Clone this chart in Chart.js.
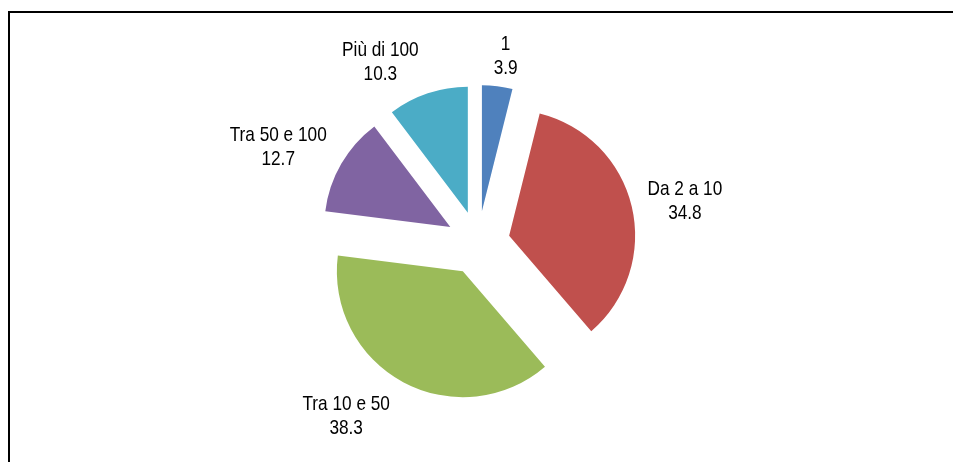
<!DOCTYPE html>
<html>
<head>
<meta charset="utf-8">
<script src="https://cdn.jsdelivr.net/npm/chart.js@4.4.1/dist/chart.umd.min.js"></script>
<style>
  body { margin: 0; background: #fff; }
  #frame { position: absolute; left: 8px; top: 11px; width: 945px; height: 451px;
           border-left: 2px solid #000; border-top: 2px solid #000; box-sizing: border-box; }
  #pie { position: absolute; left: 0; top: 0; }
</style>
</head>
<body>
<div id="frame"></div>
<canvas id="pie" width="953" height="462"></canvas>
<script>
// classes of the pie, clockwise from 12 o'clock
const categories = ['1', 'Da 2 a 10', 'Tra 10 e 50', 'Tra 50 e 100', 'Più di 100'];
const shares = [3.9, 34.8, 38.3, 12.7, 10.3];
const sliceColors = ['#4F81BD', '#C0504D', '#9BBB59', '#8064A2', '#4BACC6'];

const RADIUS = 126;   // pie radius in px
const SHIFT = 32;     // how far every slice is pulled out
// small hand nudges for the labels (Excel places them a bit freely)
const labelNudge = [[6, -1], [10, 0], [-33, 5], [-15, -3], [-33, -3]];

// the built-in offset also widens and trims the arcs, so move each slice's centre instead
const explode = {
  id: 'explode',
  afterDatasetUpdate(chart, args) {
    args.meta.data.forEach(arc => {
      const mid = (arc.startAngle + arc.endAngle) / 2;
      arc.x += Math.cos(mid) * SHIFT;
      arc.y += Math.sin(mid) * SHIFT;
    });
  }
};

const pieLabels = {
  id: 'pieLabels',
  afterDatasetsDraw(chart) {
    const ctx = chart.ctx;
    const arcs = chart.getDatasetMeta(0).data;
    ctx.save();
    ctx.font = '21px "Liberation Sans", Arial, sans-serif';
    ctx.fillStyle = '#000';
    ctx.textAlign = 'center';
    ctx.textBaseline = 'alphabetic';
    const sx = 0.82;
    arcs.forEach((arc, i) => {
      const mid = (arc.startAngle + arc.endAngle) / 2;
      const lines = [categories[i], shares[i].toFixed(1)];
      const w = Math.max(...lines.map(t => ctx.measureText(t).width)) * sx;
      const d = arc.outerRadius + 7;
      const ax = arc.x + Math.cos(mid) * d;
      const ay = arc.y + Math.sin(mid) * d;
      const cx = ax + Math.cos(mid) * w / 2 + labelNudge[i][0];
      const cy = ay + Math.sin(mid) * 24 + labelNudge[i][1];
      [cy - 4.5, cy + 19.5].forEach((by, k) => {
        ctx.save();
        ctx.translate(cx, by);
        ctx.scale(sx, 1);
        ctx.fillText(lines[k], 0, 0);
        ctx.restore();
      });
    });
    ctx.restore();
  }
};

new Chart(document.getElementById('pie'), {
  type: 'pie',
  data: {
    labels: categories,
    datasets: [{
      data: shares,
      backgroundColor: sliceColors,
      borderWidth: 0,
      offset: 0,
      hoverOffset: 0,
      radius: RADIUS
    }]
  },
  options: {
    responsive: false,
    animation: false,
    events: [],
    layout: { padding: { left: 3, right: 0, top: 24, bottom: 0 } },
    plugins: {
      legend: { display: false },
      tooltip: { enabled: false }
    }
  },
  plugins: [explode, pieLabels]
});
</script>
</body>
</html>
